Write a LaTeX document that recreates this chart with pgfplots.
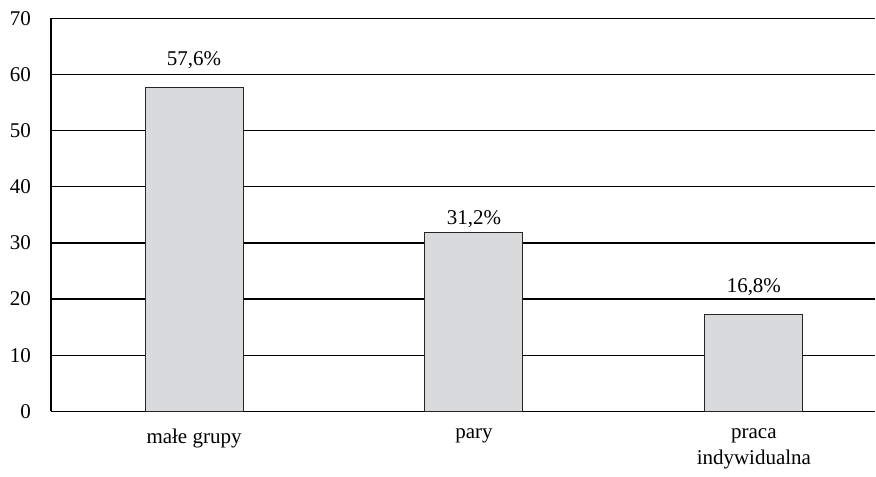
\documentclass[border=0pt]{standalone}
\usepackage{pgfplots}
\pgfplotsset{compat=1.18}
\usepackage{fontspec}
\setmainfont{Liberation Serif}
\definecolor{barfill}{HTML}{D9DADC}

\begin{document}
\fontsize{21bp}{25bp}\selectfont
\begin{tikzpicture}[font=\fontsize{21bp}{25bp}\selectfont]
\begin{axis}[
    scale only axis,
    width=825bp, height=393.4bp,
    xmin=-0.511, xmax=2.434,
    ymin=0, ymax=70,
    axis x line=bottom, axis y line=left,
    axis line style={black, line width=1.2bp, -},
    xtick=data,
    xticklabels={ma\l{}e grupy, pary, {praca\\[1.5bp]indywidualna}},
    xticklabel style={align=center, yshift=-10bp,
        font=\fontsize{21bp}{25bp}\selectfont},
    ytick={0,10,...,70},
    yticklabel style={xshift=-13bp, font=\fontsize{21bp}{25bp}\selectfont},
    major tick length=0pt,
    ymajorgrids=true,
    grid style={black, line width=1.3bp},
    /pgf/number format/assume math mode=true,
    ybar, bar width=0.35,
    clip=false,
]
\addplot[fill=barfill, draw=black!85, line width=0.9bp]
    coordinates {(0,57.6) (1,31.8) (2,17.2)};
\node[anchor=base] at (axis cs:0,61.55) {57,6\%};
\node[anchor=base] at (axis cs:1,33.3) {31,2\%};
\node[anchor=base] at (axis cs:2,21.2) {16,8\%};
\path (rel axis cs:0,1) ++(-51bp,18.3bp) coordinate (tl);
\path (tl) -- (tl);
\end{axis}
\end{tikzpicture}
\end{document}
